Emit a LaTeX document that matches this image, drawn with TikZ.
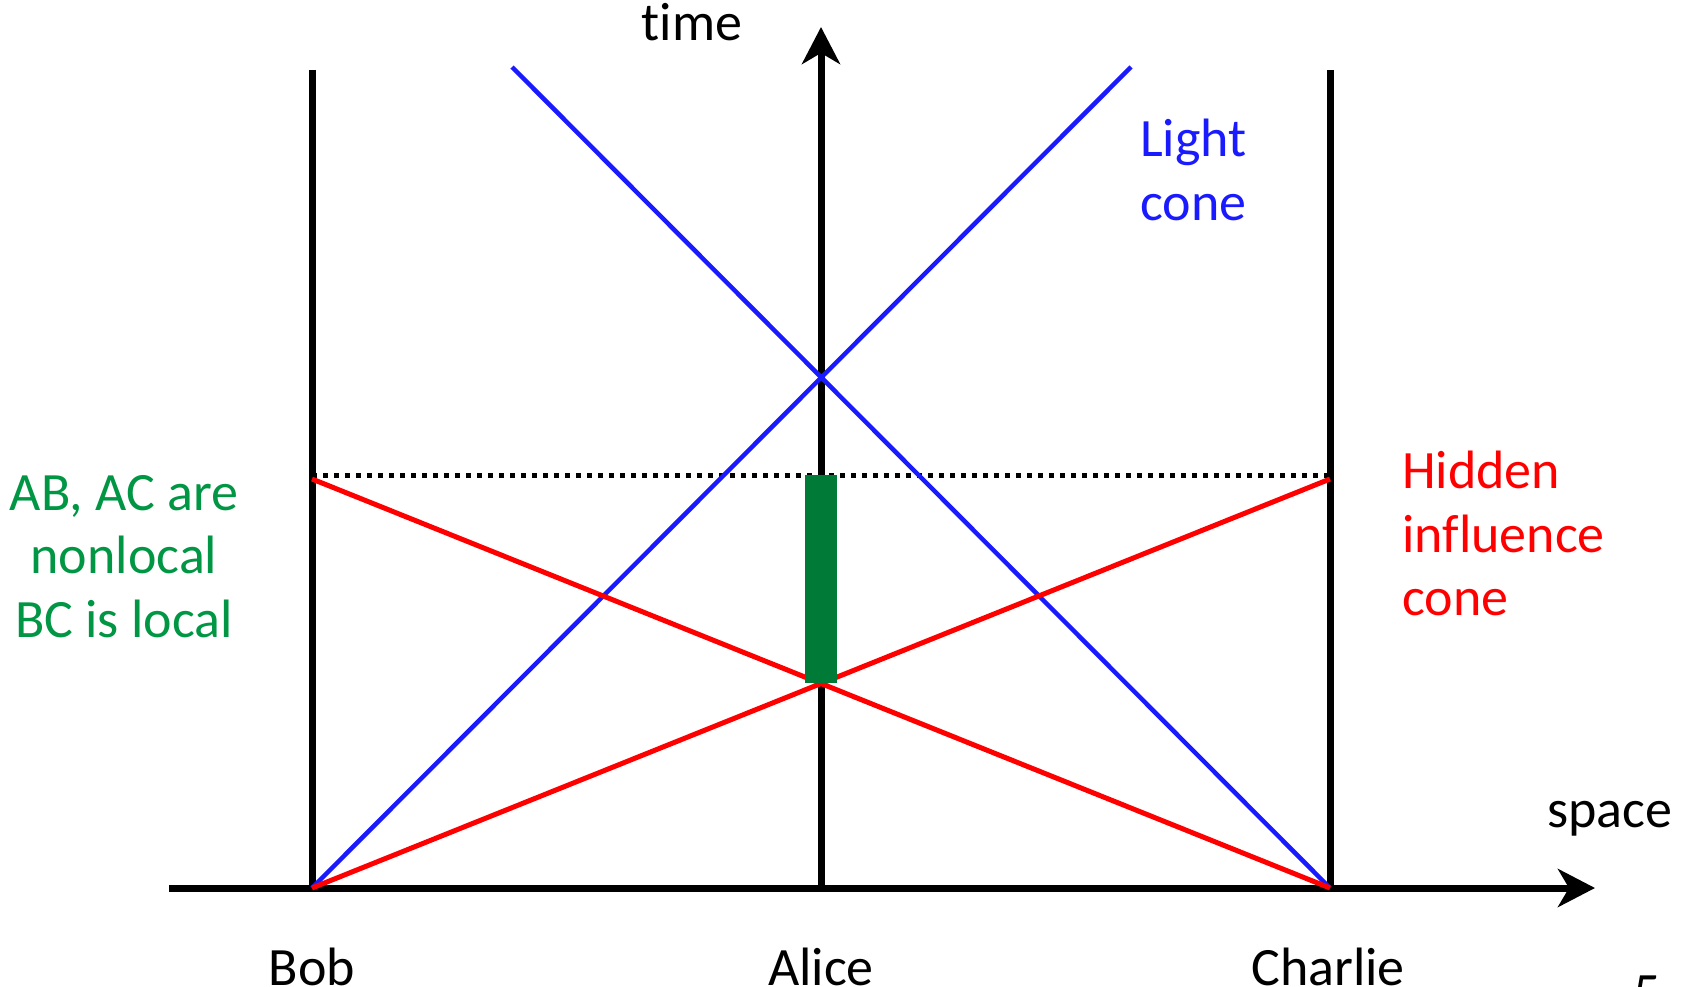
\documentclass[tikz,border=0pt]{standalone}
\usepackage{fontspec}
\setmainfont{Carlito}[Ligatures=NoCommon, Contextuals=NoAlternate]
\usetikzlibrary{arrows.meta}
\definecolor{lblue}{RGB}{26,26,255}
\definecolor{hred}{RGB}{255,0,0}
\definecolor{bargreen}{RGB}{0,122,55}
\definecolor{txtgreen}{RGB}{0,150,68}
\tikzset{
  axis/.style={line width=7pt, -{Stealth[length=37pt,width=38pt,inset=11pt]}},
  worldline/.style={line width=7pt},
  lightline/.style={lblue, line width=4.5pt},
  hidline/.style={hred, line width=5pt},
  dotline/.style={line width=5pt, dash pattern=on 5pt off 6pt},
  lbl/.style={inner sep=0pt, font=\fontsize{54}{64}\selectfont},
}
\begin{document}
\begin{tikzpicture}[x=1pt,y=-1pt]
\useasboundingbox (0,0) rectangle (1689,987);
\clip (0,0) rectangle (1689,987);
% coordinates
\coordinate (B0) at (312,888);
\coordinate (A0) at (821,888);
\coordinate (C0) at (1330,888);
\coordinate (Btop) at (312,70);
\coordinate (Ctop) at (1330,70);
\coordinate (Bmid) at (312,479);
\coordinate (Cmid) at (1330,479);
\coordinate (Ldot) at (312,475);
\coordinate (Rdot) at (1330,475);
\coordinate (xs) at (169,888);
\coordinate (xe) at (1595,888);
\coordinate (ye) at (821,27);
\coordinate (LR) at (1131,67);
\coordinate (LL) at (512,67);
% black lines
\draw[worldline] (B0) -- (Btop);
\draw[worldline] (C0) -- (Ctop);
\draw[axis] (A0) -- (ye);
\draw[axis] (xs) -- (xe);
\draw[dotline] (Ldot) -- (Rdot);
% light cone
\draw[lightline] (B0) -- (LR);
\draw[lightline] (C0) -- (LL);
% hidden influence cone
\draw[hidline] (B0) -- (Cmid);
\draw[hidline] (C0) -- (Bmid);
% bar
\fill[bargreen] (805,475) rectangle (837,683);
% labels
\node[lbl, anchor=base] (time) at (692,41) {time};
\node[lbl, anchor=base] (space) at (1610,827) {space};
\node[lbl, anchor=base] (bob) at (312,985) {Bob};
\node[lbl, anchor=base] (alice) at (821,985) {Alice};
\node[lbl, anchor=base] (charlie) at (1328,985) {Charlie};
\node[lbl, anchor=base west, text=lblue] (light1) at (1140,157) {Light};
\node[lbl, anchor=base west, text=lblue] (light2) at (1140,221) {cone};
\node[lbl, anchor=base west, text=hred] (hid1) at (1402,488) {Hidden};
\node[lbl, anchor=base west, text=hred] (hid2) at (1402,552) {influence};
\node[lbl, anchor=base west, text=hred] (hid3) at (1402,615) {cone};
\node[lbl, anchor=base, text=txtgreen] (g1) at (124,510) {AB, AC are};
\node[lbl, anchor=base, text=txtgreen] (g2) at (124,573) {nonlocal};
\node[lbl, anchor=base, text=txtgreen] (g3) at (124,637) {BC is local};
\node[lbl, anchor=base] (pnum) at (1647,1010) {5};
\end{tikzpicture}
\end{document}
